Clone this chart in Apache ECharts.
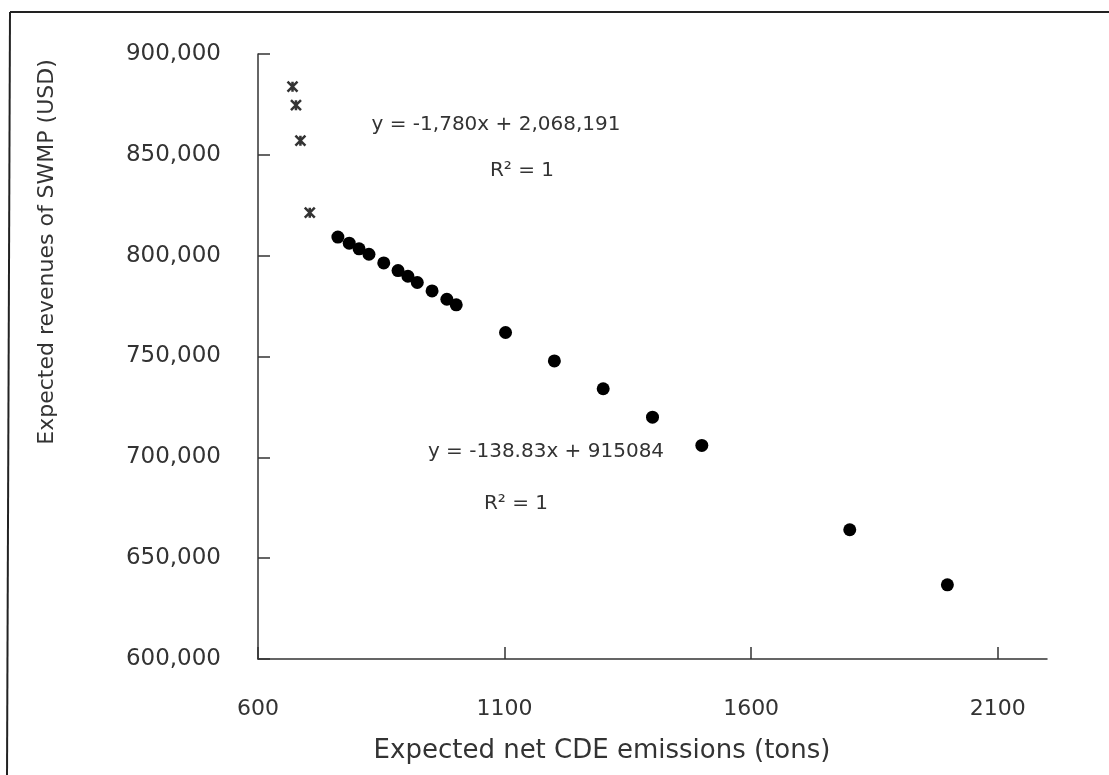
<!DOCTYPE html>
<html lang="en">
<head>
    <meta charset="UTF-8">
    <title>SWMP revenues vs CDE emissions</title>
    <script src="https://cdn.jsdelivr.net/npm/echarts@6/dist/echarts.min.js"></script>
    <style>
        html, body { margin: 0; padding: 0; background: #fff; }
    </style>
</head>
<body>
    <div id="main" style="width: 1109px;height:775px;"></div>
    <script type="text/javascript">
        // points
        const crossX = [670, 677, 686, 705];
        const crossY = [883800, 874600, 857000, 821300];

        const dotX = [762, 785, 805, 825, 855, 884, 904, 923, 953, 983, 1002,
                      1102, 1201, 1300, 1400, 1500, 1800, 1998];
        const dotY = [809200, 806200, 803400, 800700, 796400, 792600, 789800, 786700, 782500, 778400, 775600,
                      761900, 747800, 734000, 719900, 705900, 664100, 636800];

        const xTicks = [600, 1100, 1600, 2100];

        const FONT = 'DejaVu Sans';
        const ink = '#333';

        const gridLeft = 258, gridRight = 62, gridTop = 54, gridBottom = 116;
        const gridW = 1109 - gridLeft - gridRight;
        const gridH = 775 - gridTop - gridBottom;

        let myChart = echarts.init(document.getElementById('main'));

        const pair = (xs, ys) => xs.map((x, i) => [x, ys[i]]);
        // asterisk-like star marker (x with a vertical stroke)
        const star = 'path://M0,0L10,10M10,0L0,10M5,0L5,10';

        const xBase = { type: 'value', min: 600, max: 2200, interval: 500, splitLine: { show: false } };
        const yBase = { type: 'value', min: 600000, max: 900000, interval: 50000, splitLine: { show: false } };
        const tickStyle = { color: ink, width: 1.5 };

        let options = {
            animation: false,
            backgroundColor: '#fff',
            grid: { left: gridLeft, right: gridRight, top: gridTop, bottom: gridBottom },
            xAxis: [
                Object.assign({}, xBase, {
                    axisLine: { lineStyle: tickStyle },
                    axisTick: { show: false },
                    axisLabel: {
                        customValues: xTicks,
                        margin: 39,
                        color: ink,
                        fontFamily: FONT,
                        fontSize: 22,
                        formatter: v => String(v)
                    }
                }),
                // copy on the far side so its ticks point into the plot
                Object.assign({}, xBase, {
                    position: 'top',
                    offset: -gridH,
                    axisLine: { show: false },
                    axisTick: { show: true, length: 12, customValues: xTicks, lineStyle: tickStyle },
                    axisLabel: { show: false }
                })
            ],
            yAxis: [
                Object.assign({}, yBase, {
                    axisLine: { show: true, lineStyle: tickStyle },
                    axisTick: { show: false },
                    axisLabel: {
                        margin: 37,
                        color: ink,
                        fontFamily: FONT,
                        fontSize: 23,
                        formatter: v => v.toLocaleString('en-US')
                    }
                }),
                Object.assign({}, yBase, {
                    position: 'right',
                    offset: -gridW,
                    axisLine: { show: false },
                    axisTick: { show: true, length: 12, lineStyle: tickStyle },
                    axisLabel: { show: false }
                })
            ],
            series: [
                {
                    name: 'high',
                    type: 'scatter',
                    data: pair(crossX, crossY),
                    symbol: star,
                    symbolSize: 10,
                    itemStyle: { color: 'none', borderColor: '#000', borderWidth: 2.5 }
                },
                {
                    name: 'low',
                    type: 'scatter',
                    data: pair(dotX, dotY),
                    symbol: 'circle',
                    symbolSize: 13,
                    itemStyle: { color: '#000', opacity: 1 }
                }
            ],
            graphic: [
                // frame of the original figure (top and left edges)
                { type: 'line', shape: { x1: 10, y1: 12, x2: 1109, y2: 12 }, style: { stroke: '#222', lineWidth: 2 } },
                { type: 'line', shape: { x1: 10, y1: 12, x2: 7, y2: 775 }, style: { stroke: '#222', lineWidth: 2 } },
                // axis titles
                {
                    type: 'text', x: 47, y: 252, rotation: Math.PI / 2,
                    style: { text: 'Expected revenues of SWMP (USD)', fill: ink, font: '22px ' + FONT, textAlign: 'center', textVerticalAlign: 'middle' }
                },
                {
                    type: 'text', x: 602, y: 751,
                    style: { text: 'Expected net CDE emissions (tons)', fill: ink, font: '26px ' + FONT, textAlign: 'center', textVerticalAlign: 'middle' }
                },
                // trend line equations
                {
                    type: 'text', x: 496, y: 125,
                    style: { text: 'y = -1,780x + 2,068,191', fill: ink, font: '20px ' + FONT, textAlign: 'center', textVerticalAlign: 'middle' }
                },
                {
                    type: 'text', x: 522, y: 171,
                    style: { text: 'R² = 1', fill: ink, font: '20px ' + FONT, textAlign: 'center', textVerticalAlign: 'middle' }
                },
                {
                    type: 'text', x: 546, y: 452,
                    style: { text: 'y = -138.83x + 915084', fill: ink, font: '20px ' + FONT, textAlign: 'center', textVerticalAlign: 'middle' }
                },
                {
                    type: 'text', x: 516, y: 504,
                    style: { text: 'R² = 1', fill: ink, font: '20px ' + FONT, textAlign: 'center', textVerticalAlign: 'middle' }
                }
            ]
        };

        myChart.setOption(options);
    </script>
</body>
</html>
